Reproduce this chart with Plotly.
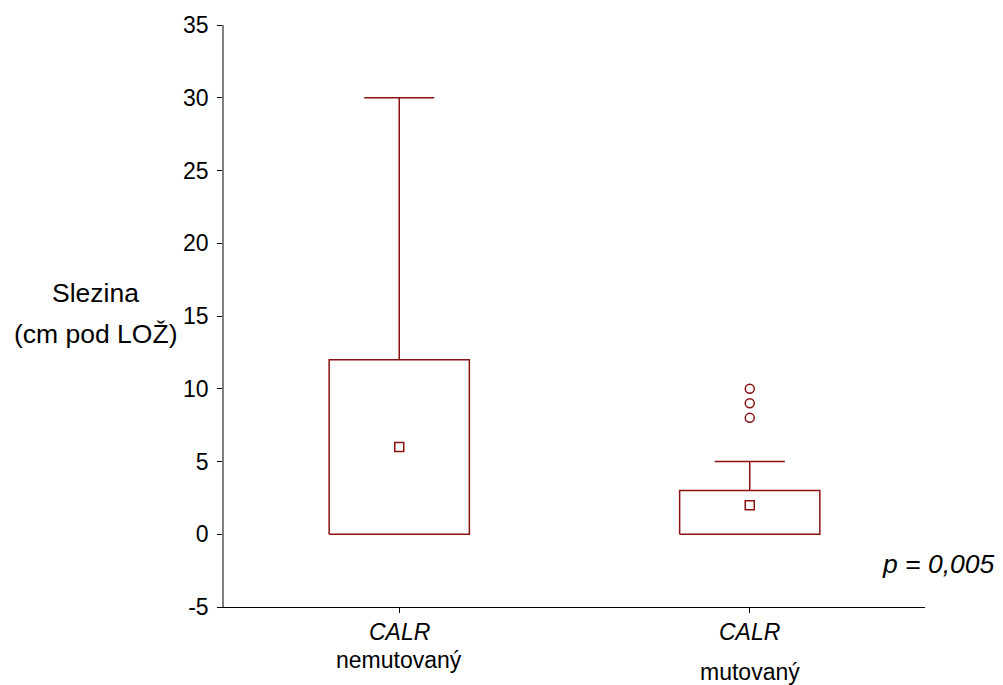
import plotly.graph_objects as go

categories = ["CALR nemutovaný", "CALR mutovaný"]
cat_top = ["CALR", "CALR"]
cat_bottom = ["nemutovaný", "mutovaný"]
q1 = [0, 0]
q3 = [12, 3]
median = [6, 2]
whisk_low = [0, 0]
whisk_high = [30, 5]
outliers = [[], [8, 9, 10]]
p_text = "p = 0,005"
y_title = ["Slezina", "(cm pod LOŽ)"]
y_ticks = [-5, 0, 5, 10, 15, 20, 25, 30, 35]
y_ticktext = ["-5", "0", "5", "10", "15", "20", "25", "30", "35"]

COL = "#8B1010"
BOX_HALF = 0.2
CAP_HALF = 0.1
FS = 23
FS_TITLE = 26.5

W, H = 1003, 685
L, R, T, B = 224, 78, 23, 78
pw, ph = W - L - R, H - T - B


def px_x(x):
    return (x - L) / pw


def px_y(y):
    return 1 - (y - T) / ph


fig = go.Figure()
for i in range(len(categories)):
    x0, x1 = i - BOX_HALF, i + BOX_HALF
    fig.add_trace(go.Scatter(x=[x0, x1, x1, x0, x0], y=[q1[i], q1[i], q3[i], q3[i], q1[i]],
                             mode="lines", line=dict(color=COL, width=1.5), hoverinfo="skip"))
    fig.add_trace(go.Scatter(x=[i, i, None, i - CAP_HALF, i + CAP_HALF],
                             y=[q3[i], whisk_high[i], None, whisk_high[i], whisk_high[i]],
                             mode="lines", line=dict(color=COL, width=1.5), hoverinfo="skip"))
    if whisk_low[i] < q1[i]:
        fig.add_trace(go.Scatter(x=[i, i, None, i - CAP_HALF, i + CAP_HALF],
                                 y=[q1[i], whisk_low[i], None, whisk_low[i], whisk_low[i]],
                                 mode="lines", line=dict(color=COL, width=1.5), hoverinfo="skip"))
    fig.add_trace(go.Scatter(x=[i], y=[median[i]], mode="markers",
                             marker=dict(symbol="square-open", size=9, color=COL, line=dict(width=1.5))))
    if outliers[i]:
        fig.add_trace(go.Scatter(x=[i] * len(outliers[i]), y=outliers[i], mode="markers",
                                 marker=dict(symbol="circle-open", size=9, color=COL, line=dict(width=1.5))))

annotations = []
bottom_y = [660, 672]
for i in range(len(categories)):
    annotations.append(dict(x=i, y=px_y(632), xref="x", yref="paper", text="<i>%s</i>" % cat_top[i],
                            showarrow=False, xanchor="center", yanchor="middle"))
    annotations.append(dict(x=i, y=px_y(bottom_y[i]), xref="x", yref="paper", text=cat_bottom[i],
                            showarrow=False, xanchor="center", yanchor="middle"))
for txt, yy in zip(y_title, [292, 333]):
    annotations.append(dict(x=px_x(95), y=px_y(yy), xref="paper", yref="paper", text=txt,
                            showarrow=False, xanchor="center", yanchor="middle",
                            font=dict(size=FS_TITLE)))
annotations.append(dict(x=px_x(997), y=px_y(564), xref="paper", yref="paper",
                        text="<i>%s</i>" % p_text, showarrow=False, xanchor="right", yanchor="middle",
                        font=dict(size=FS_TITLE)))

fig.update_layout(
    width=W, height=H, margin=dict(l=L, r=R, t=T, b=B),
    paper_bgcolor="white", plot_bgcolor="white", showlegend=False,
    font=dict(family="Liberation Sans, Arial", size=FS, color="black"),
    annotations=annotations,
    xaxis=dict(range=[-0.5, 1.5], tickvals=[0, 1], ticktext=["", ""], showgrid=False, zeroline=False,
               showline=True, linecolor="black", linewidth=1, ticks="outside", ticklen=5,
               tickcolor="black"),
    yaxis=dict(range=[-5, 35], tickvals=y_ticks, ticktext=y_ticktext, showgrid=False, zeroline=False,
               showline=True, linecolor="#808080", linewidth=1.5, ticks="outside", ticklen=5,
               tickcolor="black", ticklabelstandoff=4),
)
fig.write_html("out.html")
